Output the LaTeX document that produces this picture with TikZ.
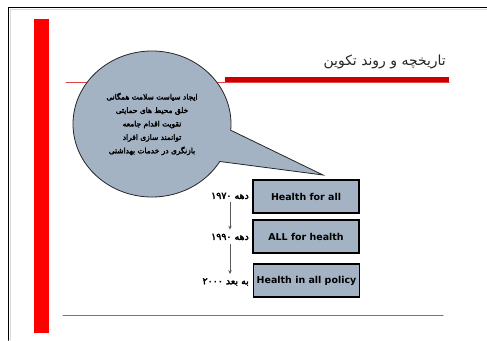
\documentclass[tikz,border=0pt]{standalone}
\usepackage{fontspec}
\usetikzlibrary{arrows.meta,shapes.callouts}
\newfontfamily\arabicfont[Script=Arabic]{DejaVu Sans}
\newfontfamily\arabicheavy[Script=Arabic,FakeBold=3]{DejaVu Sans}
\newfontfamily\latinfont{DejaVu Sans}
\TeXXeTstate=1
\definecolor{slate}{HTML}{A3B3C4}
\definecolor{titlered}{HTML}{CC0000}
\definecolor{linered}{HTML}{E04848}

\tikzset{
  era/.style={draw=black,line width=1.2bp,fill=slate,minimum width=106bp,
    minimum height=33bp,inner sep=0pt,font=\latinfont\bfseries\fontsize{9.5}{11}\selectfont},
  decade/.style={anchor=east,inner sep=1bp,font=\arabicheavy\fontsize{9.5}{11}\selectfont},
  step arrow/.style={->,black!65,line width=0.6bp},
}

\begin{document}
\begin{tikzpicture}[x=1bp,y=-1bp,>={Stealth[length=4bp,width=3.4bp]},line cap=round]
\useasboundingbox (0,0) rectangle (487,340);
\fill[white] (0,0) rectangle (487,340);
% slide frame and red rules
\draw[gray!30,line width=1bp] (10.5,340) -- (10.5,9.5) -- (487,9.5);
\draw[line width=1.5bp] (8.5,340) -- (8.5,7.5) -- (487,7.5);
\fill[red] (34,19) rectangle (49,333);
\draw[linered,line width=1bp] (66,82.5) -- (449,82.5);
\fill[titlered] (225,77) rectangle (449,82);
\draw[linered,line width=1bp] (63,315.5) -- (443,315.5);
\node[anchor=east,inner sep=0pt,text=black!85,font=\arabicfont\fontsize{14}{16}\selectfont] (title) at (446,62)
  {\beginR تاریخچه و روند تکوین\endR};

% speech bubble
\node[ellipse callout,draw=black!85,fill=slate,line width=0.8bp,minimum width=158bp,minimum height=146bp,
  callout absolute pointer={(323,175)},callout pointer arc=26,align=center,
  font=\arabicheavy\fontsize{7.5}{13.5}\selectfont] (charter) at (152,124)
  {\beginR ایجاد سیاست سلامت همگانی\endR\\
   \beginR خلق محیط های حمایتی\endR\\
   \beginR تقویت اقدام جامعه\endR\\
   \beginR توانمند سازی افراد\endR\\
   \beginR بازنگری در خدمات بهداشتی\endR};

% eras
\node[era] (hfa) at (306,196.5) {Health for all};
\node[era] (afh) at (306,236.5) {ALL for health};
\node[era] (hiap) at (306.5,280.5) {Health in all policy};

\node[decade] (d70) at (250,196) {\beginR دهه ۱۹۷۰\endR};
\node[decade] (d90) at (250,237) {\beginR دهه ۱۹۹۰\endR};
\node[decade] (d00) at (250,282) {۲۰۰۰ \beginR به بعد\endR};

\draw[step arrow,shorten <=2bp,shorten >=3bp] (d70.south) -- (d70.south |- d90.north);
\draw[step arrow,shorten <=3bp,shorten >=3bp] (d70.south |- d90.south) -- (d70.south |- d00.north);
\end{tikzpicture}
\end{document}
